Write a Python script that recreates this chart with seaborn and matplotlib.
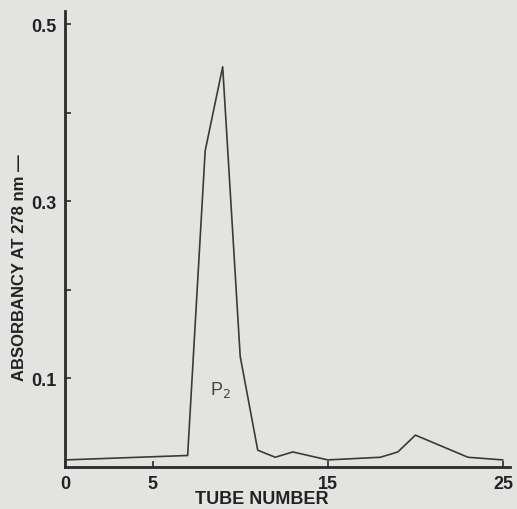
import matplotlib
matplotlib.use("Agg")
import matplotlib.pyplot as plt
import seaborn as sns
import pandas as pd

# data
tubes = [0, 7, 8, 9, 10, 11, 12, 13, 15, 18, 19, 20, 23, 25]
absorbancy = [0.008, 0.013, 0.357, 0.452, 0.125, 0.019, 0.011, 0.017, 0.008,
              0.011, 0.017, 0.036, 0.011, 0.008]
x_ticks = [0, 5, 15, 25]
x_tick_labels = ["0", "5", "15", "25"]
y_ticks = [0.1, 0.2, 0.3, 0.4, 0.5]
y_tick_labels = ["0.1", "", "0.3", "", "0.5"]
peak_label = "P$_2$"

df = pd.DataFrame({"tube": tubes, "abs": absorbancy})

sns.set_theme(style="ticks")
bg = "#e3e3e1"
plt.rcParams["font.family"] = ["Liberation Sans", "DejaVu Sans"]

fig = plt.figure(figsize=(5.17, 5.10), dpi=100, facecolor=bg)
ax = fig.add_axes([65 / 517, (510 - 468) / 510, (510 - 65) / 517, (468 - 12) / 510])
ax.set_facecolor(bg)

sns.lineplot(data=df, x="tube", y="abs", ax=ax, color="#3a3a3a", linewidth=1.2,
             estimator=None, sort=False)

ax.set_xlim(0, 25.4)
ax.set_ylim(0, 0.515)
ax.set_xticks(x_ticks)
ax.set_xticklabels(x_tick_labels)
ax.set_yticks(y_ticks)
ax.set_yticklabels(y_tick_labels)

for s in ["top", "right"]:
    ax.spines[s].set_visible(False)
for s in ["left", "bottom"]:
    ax.spines[s].set_linewidth(2.0)
    ax.spines[s].set_color("#2a2a2a")

ax.tick_params(axis="both", direction="in", length=4, width=1.2, color="#2a2a2a",
               labelsize=13, labelcolor="#222222", pad=6)
for lab in ax.get_xticklabels() + ax.get_yticklabels():
    lab.set_fontweight("bold")

ax.set_xlabel("TUBE NUMBER", fontsize=13, fontweight="bold", color="#222222")
ax.set_ylabel("ABSORBANCY AT 278 nm —", fontsize=12, fontweight="bold", color="#222222")
ax.xaxis.set_label_coords((262 - 65) / 445, (468 - 491) / 456)
ax.yaxis.set_label_coords((27 - 65) / 445, (468 - 268) / 456)

ax.text(8.3, 0.088, peak_label, fontsize=13, color="#444444", ha="left", va="center")

fig.savefig("out.png", dpi=100, facecolor=bg)
